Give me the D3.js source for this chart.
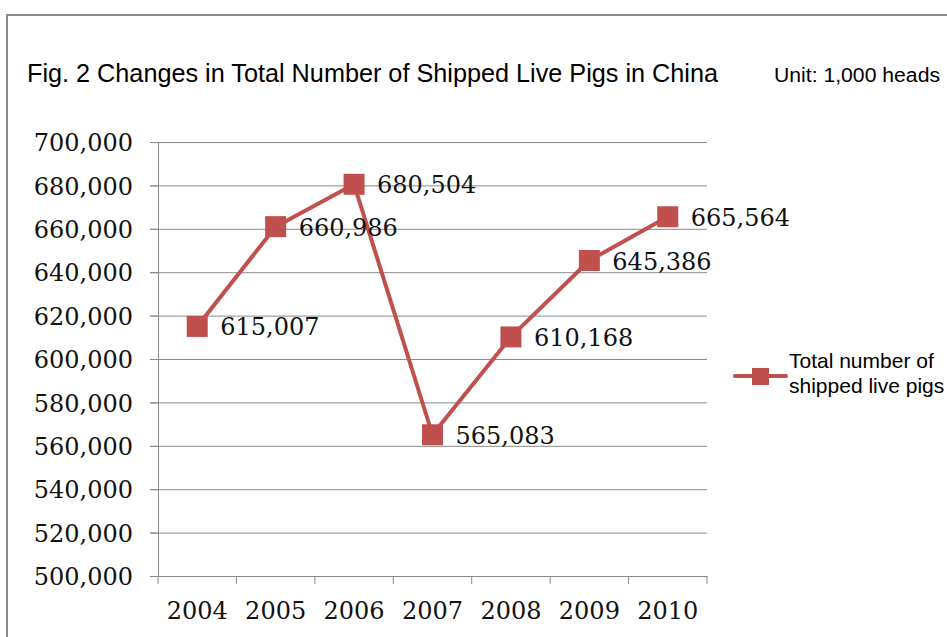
<!DOCTYPE html>
<html lang="en">
<head>
<meta charset="utf-8">
<title>Shipped Live Pigs</title>
<script src="https://d3js.org/d3.v7.min.js"></script>
<style>
    body { margin: 0; background: white; }
    svg { display: block; }
</style>
</head>
<body>
<div id="viz"></div>
<script>
    var years = ["2004", "2005", "2006", "2007", "2008", "2009", "2010"];
    var shipped = [615007, 660986, 680504, 565083, 610168, 645386, 665564];
    var yTicks = [500000, 520000, 540000, 560000, 580000, 600000, 620000, 640000, 660000, 680000, 700000];
    var seriesName = ["Total number of", "shipped live pigs"];

    var width = 947, height = 637;
    var red = "#c0504d", grid = "#8a8a8a";
    var serif = "'DejaVu Serif', serif";
    var sans = "'Liberation Sans', Arial, sans-serif";

    var svg = d3.select("#viz").append("svg")
        .attr("width", width).attr("height", height);

    // outer frame (only top and left edges visible)
    svg.append("path")
        .attr("d", "M7,637 V15 H947")
        .attr("fill", "none").attr("stroke", "#8c8c8c").attr("stroke-width", 2);

    svg.append("text")
        .attr("x", 27).attr("y", 82)
        .attr("font-family", sans).attr("font-size", 26)
        .attr("textLength", 691).attr("lengthAdjust", "spacingAndGlyphs")
        .text("Fig. 2 Changes in Total Number of Shipped Live Pigs in China");

    svg.append("text")
        .attr("x", 774).attr("y", 82)
        .attr("font-family", sans).attr("font-size", 20)
        .attr("textLength", 166).attr("lengthAdjust", "spacingAndGlyphs")
        .text("Unit: 1,000 heads");

    var x = d3.scaleBand().domain(years).range([158, 707]);
    var y = d3.scaleLinear().domain([500000, 700000]).range([576, 142]);
    var fmt = d3.format(",");

    // gridlines + y axis
    var yAxis = d3.axisLeft(y).tickValues(yTicks).tickFormat(fmt)
        .tickSize(8).tickPadding(17);
    var gy = svg.append("g").attr("transform", "translate(158,0)").call(yAxis);
    gy.select(".domain").attr("stroke", grid);
    gy.selectAll(".tick line").attr("stroke", grid)
        .attr("x1", d => d === 500000 ? 0 : 549);
    gy.selectAll(".tick").append("line")
        .attr("stroke", grid).attr("x1", -8).attr("x2", 0);
    gy.selectAll(".tick text")
        .attr("font-family", serif).attr("font-size", 24).attr("fill", "#111")
        .attr("dy", "0.36em");

    // x axis
    var gx = svg.append("g").attr("transform", "translate(0,576)")
        .call(d3.axisBottom(x).tickSize(0).tickPadding(26));
    gx.select(".domain").attr("stroke", grid);
    gx.selectAll(".tick text")
        .attr("font-family", serif).attr("font-size", 24).attr("fill", "#111");
    var edges = x.domain().map(d => x(d)).concat([x.range()[1]]);
    gx.selectAll(".xt").data(edges).enter().append("line")
        .attr("x1", d => d).attr("x2", d => d)
        .attr("y1", 0).attr("y2", 8)
        .attr("stroke", grid);

    var cx = (d, i) => x(years[i]) + x.bandwidth() / 2;

    svg.append("path")
        .datum(shipped)
        .attr("fill", "none").attr("stroke", red).attr("stroke-width", 4)
        .attr("stroke-linejoin", "round")
        .attr("d", d3.line().x(cx).y(d => y(d)));

    var ms = 21;
    svg.selectAll(".mk").data(shipped).enter().append("rect")
        .attr("x", (d, i) => cx(d, i) - ms / 2)
        .attr("y", d => y(d) - ms / 2)
        .attr("width", ms).attr("height", ms)
        .attr("fill", red);

    svg.selectAll(".lbl").data(shipped).enter().append("text")
        .attr("x", (d, i) => cx(d, i) + 23)
        .attr("y", d => y(d) + 9)
        .attr("font-family", serif).attr("font-size", 24).attr("fill", "#111")
        .text(d => fmt(d));

    // legend
    var lg = svg.append("g");
    lg.append("line").attr("x1", 735).attr("x2", 786)
        .attr("y1", 376).attr("y2", 376)
        .attr("stroke", red).attr("stroke-width", 4).attr("stroke-linecap", "round");
    lg.append("rect").attr("x", 752).attr("y", 368).attr("width", 17).attr("height", 17)
        .attr("fill", red);
    lg.selectAll("text").data(seriesName).enter().append("text")
        .attr("x", 789).attr("y", (d, i) => 368 + i * 24.5)
        .attr("font-family", sans).attr("font-size", 21)
        .text(d => d);
</script>
</body>
</html>
